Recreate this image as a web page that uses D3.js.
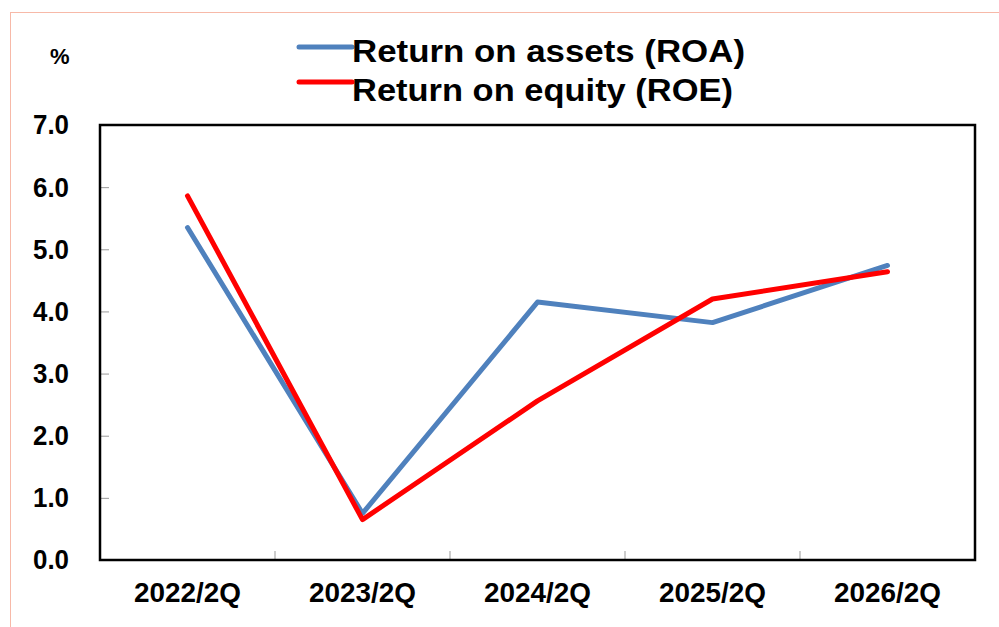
<!DOCTYPE html>
<html>
<head>
<meta charset="utf-8">
<script src="https://cdn.jsdelivr.net/npm/d3@7"></script>
<style>
  body { margin: 0; background: #fff; }
  text { font-family: "Liberation Sans", Arial, sans-serif; font-weight: bold; }
</style>
</head>
<body>
<div id="chart"></div>
<script>
const categories = ["2022/2Q", "2023/2Q", "2024/2Q", "2025/2Q", "2026/2Q"];
const roaValues = [5.35, 0.75, 4.15, 3.82, 4.74];
const roeValues = [5.86, 0.65, 2.56, 4.2, 4.64];
const yTicks = [0, 1, 2, 3, 4, 5, 6, 7];
const seriesNames = ["Return on assets (ROA)", "Return on equity (ROE)"];

const W = 999, H = 627;
const plot = { left: 100, right: 975, top: 125, bottom: 560 };
const colors = { roa: "#4F81BD", roe: "#FF0000", tick: "#999", frame: "#000" };

const svg = d3.select("#chart").append("svg")
  .attr("width", W).attr("height", H);

// light border round the whole chart
svg.append("rect")
  .attr("x", 10.5).attr("y", 12.5)
  .attr("width", 1200).attr("height", 800)
  .attr("fill", "none")
  .attr("stroke", "#F7B9A8")
  .attr("stroke-width", 1);

const x = d3.scaleBand().domain(categories).range([plot.left, plot.right]).padding(0);
const y = d3.scaleLinear().domain([0, 7]).range([plot.bottom, plot.top]);
const cx = (c) => x(c) + x.bandwidth() / 2;

// y axis: ticks inside, labels on the left
svg.append("g")
  .attr("transform", `translate(${plot.left},0)`)
  .call(d3.axisLeft(y).tickValues(yTicks).tickFormat(d3.format(".1f"))
    .tickSizeInner(-9).tickSizeOuter(0).tickPadding(31))
  .call((g) => {
    g.select(".domain").remove();
    g.selectAll(".tick line").attr("stroke", colors.tick);
    g.selectAll(".tick text").attr("fill", "#000").style("font-size", "28px")
      .attr("textLength", 36).attr("lengthAdjust", "spacingAndGlyphs");
  });

// x axis labels
svg.append("g")
  .attr("transform", `translate(0,${plot.bottom})`)
  .call(d3.axisBottom(x).tickSize(0).tickPadding(23))
  .call((g) => {
    g.select(".domain").remove();
    g.selectAll(".tick text").attr("fill", "#000").style("font-size", "27px")
      .attr("textLength", 107).attr("lengthAdjust", "spacingAndGlyphs");
  });

// x ticks at category boundaries, pointing up
svg.append("g").selectAll("line")
  .data(categories.slice(1))
  .join("line")
  .attr("x1", (d) => x(d)).attr("x2", (d) => x(d))
  .attr("y1", plot.bottom).attr("y2", plot.bottom - 9)
  .attr("stroke", colors.tick);

// plot frame
svg.append("rect")
  .attr("x", plot.left).attr("y", plot.top)
  .attr("width", plot.right - plot.left).attr("height", plot.bottom - plot.top)
  .attr("fill", "none").attr("stroke", colors.frame).attr("stroke-width", 2.5);

const line = d3.line().x((d, i) => cx(categories[i])).y((d) => y(d));

svg.append("path").datum(roaValues)
  .attr("d", line).attr("fill", "none")
  .attr("stroke", colors.roa).attr("stroke-width", 5)
  .attr("stroke-linecap", "round").attr("stroke-linejoin", "round");

svg.append("path").datum(roeValues)
  .attr("d", line).attr("fill", "none")
  .attr("stroke", colors.roe).attr("stroke-width", 5)
  .attr("stroke-linecap", "round").attr("stroke-linejoin", "round");

// unit label
svg.append("text").attr("x", 50).attr("y", 64)
  .style("font-size", "22px").text("%");

// legend
const legend = [
  { name: seriesNames[0], color: colors.roa, y: 47, base: 61.5, len: 393 },
  { name: seriesNames[1], color: colors.roe, y: 82, base: 101, len: 381 },
];
const lg = svg.append("g").selectAll("g").data(legend).join("g");
lg.append("line")
  .attr("x1", 299).attr("x2", 352)
  .attr("y1", (d) => d.y).attr("y2", (d) => d.y)
  .attr("stroke", (d) => d.color).attr("stroke-width", 5)
  .attr("stroke-linecap", "round");
lg.append("text")
  .attr("x", 352).attr("y", (d) => d.base)
  .style("font-size", "31px")
  .attr("textLength", (d) => d.len).attr("lengthAdjust", "spacingAndGlyphs")
  .text((d) => d.name);
</script>
</body>
</html>
